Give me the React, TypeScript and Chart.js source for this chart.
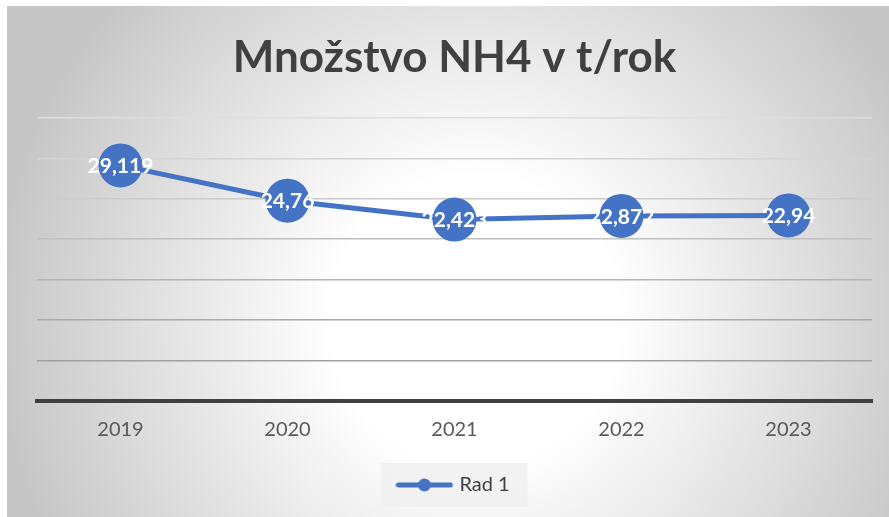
import React, { useEffect, useRef } from "react";
import { Chart, registerables } from "chart.js";

Chart.register(...registerables);

const categories = ["2019", "2020", "2021", "2022", "2023"];
const seriesName = "Rad 1";
const seriesValues = [29.119, 24.76, 22.423, 22.872, 22.94];
const titleText = "Množstvo NH4 v t/rok";
const yMin = 0;
const yMax = 35;
const yStep = 5;

const BLUE = "#4472C4";

const bgPlugin = {
  id: "bgPlugin",
  beforeDraw(chart: any) {
    const ctx = chart.ctx;
    const w = chart.width;
    const h = chart.height;
    ctx.save();
    ctx.fillStyle = "#ffffff";
    ctx.fillRect(0, 0, w, h);
    const g = ctx.createRadialGradient(475, 320, 0, 475, 320, 480);
    g.addColorStop(0, "#ffffff");
    g.addColorStop(0.3, "#ffffff");
    g.addColorStop(1, "#c6c6c6");
    ctx.fillStyle = g;
    ctx.fillRect(7, 6, w - 7, h - 6);
    const lg = chart.legend;
    if (lg && lg.legendHitBoxes && lg.legendHitBoxes.length) {
      const b = lg.legendHitBoxes[0];
      ctx.fillStyle = "rgba(240,240,240,0.85)";
      ctx.fillRect(b.left - 18, b.top - 12, b.width + 36, b.height + 24);
    }
    ctx.restore();
  },
};

const labelPlugin = {
  id: "labelPlugin",
  afterDatasetsDraw(chart: any) {
    const ctx = chart.ctx;
    const meta = chart.getDatasetMeta(0);
    ctx.save();
    ctx.fillStyle = "#ffffff";
    ctx.font = "bold 21px Lato";
    ctx.textAlign = "center";
    ctx.textBaseline = "middle";
    meta.data.forEach((pt: any, i: number) => {
      const txt = String(seriesValues[i]).replace(".", ",");
      ctx.fillText(txt, pt.x, pt.y + 1);
    });
    ctx.restore();
  },
};

const gridColors: Record<number, string> = {
  35: "#dedede",
  30: "#d4d4d4",
  25: "#cbcbcb",
  20: "#c0c0c0",
  15: "#b4b4b4",
  10: "#aaaaaa",
  5: "#a0a0a0",
};

export default function App() {
  const ref = useRef<HTMLCanvasElement | null>(null);
  useEffect(() => {
    if (!ref.current) return;
    const icon = document.createElement("canvas");
    icon.width = 58;
    icon.height = 14;
    const ictx = icon.getContext("2d")!;
    ictx.strokeStyle = BLUE;
    ictx.lineWidth = 5;
    ictx.lineCap = "round";
    ictx.beginPath();
    ictx.moveTo(3, 7);
    ictx.lineTo(55, 7);
    ictx.stroke();
    ictx.fillStyle = BLUE;
    ictx.beginPath();
    ictx.arc(29, 7, 6.5, 0, Math.PI * 2);
    ictx.fill();

    const chart = new Chart(ref.current, {
      type: "line",
      data: {
        labels: categories,
        datasets: [
          {
            label: seriesName,
            data: seriesValues,
            borderColor: BLUE,
            backgroundColor: BLUE,
            borderWidth: 5,
            pointRadius: 22,
            pointBackgroundColor: BLUE,
            pointBorderColor: BLUE,
            pointBorderWidth: 0,
            tension: 0,
          },
        ],
      },
      options: {
        responsive: false,
        animation: false,
        layout: { autoPadding: false, padding: { left: 37, right: 17, top: 0, bottom: 12 } },
        plugins: {
          title: {
            display: true,
            text: titleText,
            color: "#404040",
            font: { family: "Lato", size: 44, weight: "bold", lineHeight: 1.2 },
            padding: { top: 31, bottom: 34 },
          },
          legend: {
            display: true,
            position: "bottom",
            labels: {
              usePointStyle: true,
              pointStyle: icon as any,
              pointStyleWidth: 50,
              color: "#404040",
              font: { family: "Lato", size: 20 },
              padding: 16,
            },
          },
          tooltip: { enabled: false },
        },
        scales: {
          x: {
            offset: true,
            grid: { display: false, drawTicks: false },
            border: { display: true, color: "#404040", width: 4 },
            ticks: {
              color: "#595959",
              font: { family: "Lato", size: 20 },
              padding: 17,
            },
          },
          y: {
            min: yMin,
            max: yMax,
            ticks: { display: false, stepSize: yStep },
            border: { display: false },
            grid: {
              drawTicks: false,
              color: (c: any) => gridColors[c.tick?.value] || "rgba(0,0,0,0)",
              lineWidth: 1.5,
            },
            afterFit: (s: any) => {
              s.width = 0;
            },
          },
        },
      },
      plugins: [bgPlugin, labelPlugin],
    });
    return () => chart.destroy();
  }, []);
  return (
    <div style={{ position: "fixed", left: 0, top: 0, width: 889, height: 517 }}>
      <canvas ref={ref} width={889} height={517} style={{ display: "block", width: 889, height: 517 }} />
    </div>
  );
}
